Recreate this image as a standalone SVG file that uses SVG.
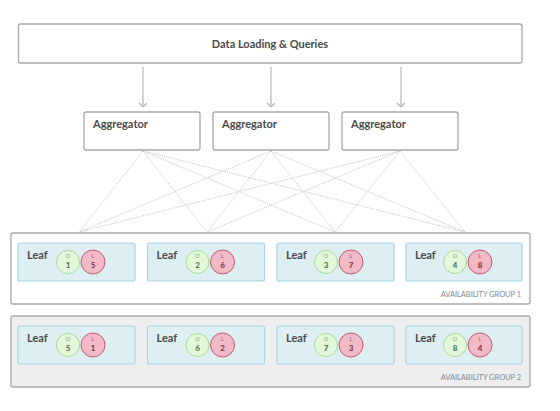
<svg xmlns="http://www.w3.org/2000/svg" width="560" height="411" viewBox="0 0 560 411">
<style>
.box{fill:#fff;stroke:#a9a9a9;stroke-width:1.3}
.lbl{font-family:Lato,"Open Sans","Liberation Sans",sans-serif;font-weight:bold;fill:#4a4a4a}
.leaf{fill:#deeff4;stroke:#a6d6e2;stroke-width:1.2}
.o{fill:#e3f8db;stroke:#9fdc98;stroke-width:1}
.l{fill:#f2b9c6;stroke:#c5596f;stroke-width:1}
.ot{font-family:Lato,"Liberation Sans",sans-serif;font-weight:bold;font-size:8px;fill:#3f6a3b;text-anchor:middle}
.os{font-family:Lato,"Liberation Sans",sans-serif;font-size:5.5px;fill:#6aa966;text-anchor:middle}
.lt{font-family:Lato,"Liberation Sans",sans-serif;font-weight:bold;font-size:8px;fill:#7a2b3c;text-anchor:middle}
.ls{font-family:Lato,"Liberation Sans",sans-serif;font-size:5.5px;fill:#a05565;text-anchor:middle}
.ag{font-family:Lato,"Open Sans","Liberation Sans",sans-serif;font-size:7.6px;fill:#8a8a8a;text-anchor:end;letter-spacing:-0.1px}
.dot{stroke:#c4c4c4;stroke-width:1;stroke-dasharray:1.2 1.2;fill:none}
.arr{stroke:#b0b0b0;stroke-width:1.1;fill:none}
</style>
<defs>
<marker id="ah" markerWidth="10" markerHeight="10" refX="5" refY="5" orient="auto" markerUnits="userSpaceOnUse">
<path d="M1,1 L5,5 L1,9" fill="none" stroke="#b0b0b0" stroke-width="1.1"/>
</marker>
</defs>
<rect width="560" height="411" fill="#fff"/>

<g id="group1">
<rect x="11" y="233" width="519" height="71" rx="2" fill="#fff" stroke="#a9a9a9" stroke-width="1.3"/>
<text class="ag" x="521" y="297">AVAILABILITY GROUP 1</text>
</g>
<g id="group2">
<rect x="11" y="316" width="519" height="71" rx="2" fill="#eeeeee" stroke="#a9a9a9" stroke-width="1.3"/>
<text class="ag" x="521" y="380">AVAILABILITY GROUP 2</text>
</g>

<g id="connectors">
<line class="arr" x1="143" y1="67" x2="143" y2="107" marker-end="url(#ah)"/>
<line class="arr" x1="271" y1="67" x2="271" y2="107" marker-end="url(#ah)"/>
<line class="arr" x1="401" y1="67" x2="401" y2="107" marker-end="url(#ah)"/>
<line class="dot" x1="143" y1="151" x2="79" y2="232"/>
<line class="dot" x1="143" y1="151" x2="207" y2="232"/>
<line class="dot" x1="143" y1="151" x2="335" y2="232"/>
<line class="dot" x1="143" y1="151" x2="465" y2="232"/>
<line class="dot" x1="271" y1="151" x2="79" y2="232"/>
<line class="dot" x1="271" y1="151" x2="207" y2="232"/>
<line class="dot" x1="271" y1="151" x2="335" y2="232"/>
<line class="dot" x1="271" y1="151" x2="465" y2="232"/>
<line class="dot" x1="400" y1="151" x2="79" y2="232"/>
<line class="dot" x1="400" y1="151" x2="207" y2="232"/>
<line class="dot" x1="400" y1="151" x2="335" y2="232"/>
<line class="dot" x1="400" y1="151" x2="465" y2="232"/>
</g>

<g id="top">
<rect class="box" x="18.5" y="24" width="503.5" height="39" rx="2"/>
<text class="lbl" x="270" y="48" font-size="11" text-anchor="middle">Data Loading &amp; Queries</text>
</g>

<g id="agg1"><rect class="box" x="84" y="112" width="116" height="38" rx="2"/><text class="lbl" x="93" y="128" font-size="11">Aggregator</text></g>
<g id="agg2"><rect class="box" x="213" y="112" width="116" height="38" rx="2"/><text class="lbl" x="222" y="128" font-size="11">Aggregator</text></g>
<g id="agg3"><rect class="box" x="342" y="112" width="116" height="38" rx="2"/><text class="lbl" x="351" y="128" font-size="11">Aggregator</text></g>

<g id="leaf-g1-1"><rect class="leaf" x="18" y="243" width="117" height="38" rx="2"/><text class="lbl" x="27" y="259" font-size="11">Leaf</text>
<circle class="o" cx="68" cy="262" r="11.5"/><text class="os" x="68" y="258">O</text><text class="ot" x="68" y="268">1</text>
<circle class="l" cx="93" cy="262" r="12"/><text class="ls" x="93" y="258">L</text><text class="lt" x="93" y="268">5</text></g>
<g id="leaf-g1-2"><rect class="leaf" x="147.5" y="243" width="117" height="38" rx="2"/><text class="lbl" x="156.5" y="259" font-size="11">Leaf</text>
<circle class="o" cx="197.5" cy="262" r="11.5"/><text class="os" x="197.5" y="258">O</text><text class="ot" x="197.5" y="268">2</text>
<circle class="l" cx="222.5" cy="262" r="12"/><text class="ls" x="222.5" y="258">L</text><text class="lt" x="222.5" y="268">6</text></g>
<g id="leaf-g1-3"><rect class="leaf" x="277" y="243" width="117" height="38" rx="2"/><text class="lbl" x="286" y="259" font-size="11">Leaf</text>
<circle class="o" cx="326" cy="262" r="11.5"/><text class="os" x="326" y="258">O</text><text class="ot" x="326" y="268">3</text>
<circle class="l" cx="351" cy="262" r="12"/><text class="ls" x="351" y="258">L</text><text class="lt" x="351" y="268">7</text></g>
<g id="leaf-g1-4"><rect class="leaf" x="406" y="243" width="116" height="38" rx="2"/><text class="lbl" x="415" y="259" font-size="11">Leaf</text>
<circle class="o" cx="455" cy="262" r="11.5"/><text class="os" x="455" y="258">O</text><text class="ot" x="455" y="268">4</text>
<circle class="l" cx="480" cy="262" r="12"/><text class="ls" x="480" y="258">L</text><text class="lt" x="480" y="268">8</text></g>

<g id="leaf-g2-1"><rect class="leaf" x="18" y="326" width="117" height="38" rx="2"/><text class="lbl" x="27" y="342" font-size="11">Leaf</text>
<circle class="o" cx="68" cy="345" r="11.5"/><text class="os" x="68" y="341">O</text><text class="ot" x="68" y="351">5</text>
<circle class="l" cx="93" cy="345" r="12"/><text class="ls" x="93" y="341">L</text><text class="lt" x="93" y="351">1</text></g>
<g id="leaf-g2-2"><rect class="leaf" x="147.5" y="326" width="117" height="38" rx="2"/><text class="lbl" x="156.5" y="342" font-size="11">Leaf</text>
<circle class="o" cx="197.5" cy="345" r="11.5"/><text class="os" x="197.5" y="341">O</text><text class="ot" x="197.5" y="351">6</text>
<circle class="l" cx="222.5" cy="345" r="12"/><text class="ls" x="222.5" y="341">L</text><text class="lt" x="222.5" y="351">2</text></g>
<g id="leaf-g2-3"><rect class="leaf" x="277" y="326" width="117" height="38" rx="2"/><text class="lbl" x="286" y="342" font-size="11">Leaf</text>
<circle class="o" cx="326" cy="345" r="11.5"/><text class="os" x="326" y="341">O</text><text class="ot" x="326" y="351">7</text>
<circle class="l" cx="351" cy="345" r="12"/><text class="ls" x="351" y="341">L</text><text class="lt" x="351" y="351">3</text></g>
<g id="leaf-g2-4"><rect class="leaf" x="406" y="326" width="116" height="38" rx="2"/><text class="lbl" x="415" y="342" font-size="11">Leaf</text>
<circle class="o" cx="455" cy="345" r="11.5"/><text class="os" x="455" y="341">O</text><text class="ot" x="455" y="351">8</text>
<circle class="l" cx="480" cy="345" r="12"/><text class="ls" x="480" y="341">L</text><text class="lt" x="480" y="351">4</text></g>
</svg>
